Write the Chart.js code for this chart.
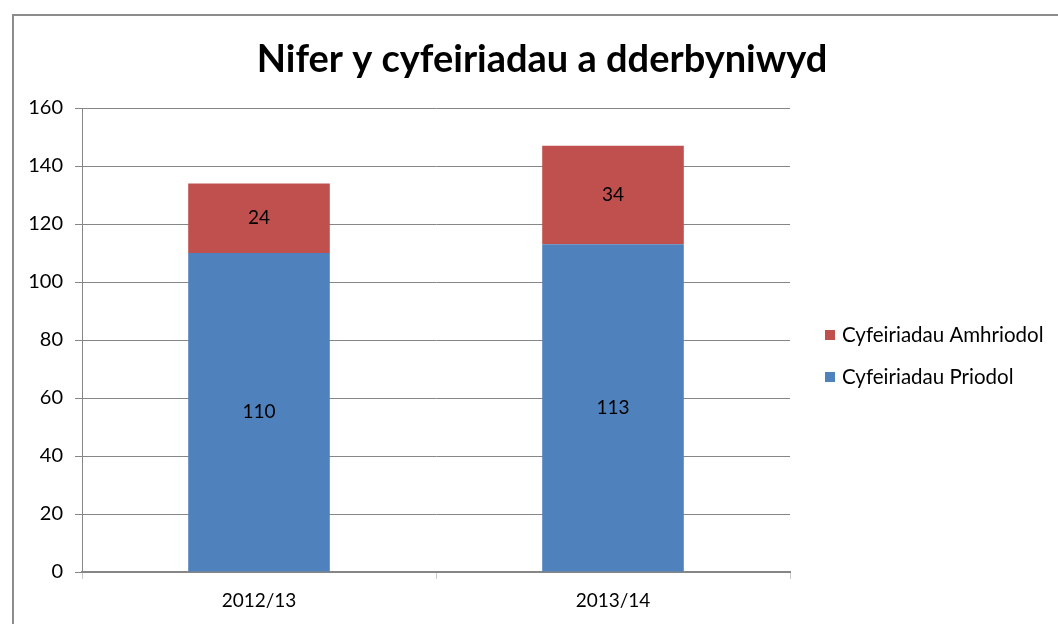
<!DOCTYPE html>
<html>
<head>
<meta charset="utf-8">
<script src="https://cdn.jsdelivr.net/npm/chart.js@4.4.0/dist/chart.umd.min.js"></script>
<style>
  html, body { margin: 0; padding: 0; background: #fff; overflow: hidden; }
  #frame { position: absolute; left: 12px; top: 14px; width: 1100px; height: 700px; border: 2px solid #8c8c8c; box-sizing: border-box; }
  #wrap { position: absolute; left: 0; top: 0; width: 1058px; height: 624px; }
</style>
</head>
<body>
<div id="frame"></div>
<div id="wrap"><canvas id="chart" width="1058" height="624"></canvas></div>
<script>
// data
var categories = ['2012/13', '2013/14'];
var priodol = [110, 113];
var amhriodol = [24, 34];
var yMax = 160;
var yStep = 20;
var chartTitle = 'Nifer y cyfeiriadau a dderbyniwyd';

var FONT = 'Lato';
var gridGrey = '#868686';

// title centred over the whole frame, not just the plot
var bigTitle = {
  id: 'bigTitle',
  afterDraw: function(chart) {
    var ctx = chart.ctx;
    ctx.save();
    ctx.font = 'bold 38px ' + FONT;
    ctx.fillStyle = '#000';
    ctx.textAlign = 'center';
    ctx.textBaseline = 'alphabetic';
    ctx.fillText(chartTitle, 542, 72);
    ctx.restore();
  }
};

// numbers written inside the bar segments
var barLabels = {
  id: 'barLabels',
  afterDatasetsDraw: function(chart) {
    var ctx = chart.ctx;
    ctx.save();
    ctx.font = '19px ' + FONT;
    ctx.fillStyle = '#000';
    ctx.textAlign = 'center';
    ctx.textBaseline = 'middle';
    chart.data.datasets.forEach(function(ds, i) {
      chart.getDatasetMeta(i).data.forEach(function(bar, j) {
        var mid = (bar.y + bar.base) / 2;
        ctx.fillText(ds.data[j], bar.x, mid);
      });
    });
    ctx.restore();
  }
};

// legend on the right, top item is the top segment
var sideLegend = {
  id: 'sideLegend',
  afterDraw: function(chart) {
    var ctx = chart.ctx;
    var items = chart.data.datasets.slice().reverse();
    ctx.save();
    ctx.font = '20.5px ' + FONT;
    ctx.textBaseline = 'middle';
    ctx.textAlign = 'left';
    items.forEach(function(ds, k) {
      var y = 335 + k * 42;
      ctx.fillStyle = ds.backgroundColor;
      ctx.fillRect(825, y - 5, 10, 10);
      ctx.fillStyle = '#000';
      ctx.fillText(ds.label, 842, y);
    });
    ctx.restore();
  }
};

var ctx = document.getElementById('chart').getContext('2d');
new Chart(ctx, {
  type: 'bar',
  data: {
    labels: categories,
    datasets: [
      { label: 'Cyfeiriadau Priodol', data: priodol, backgroundColor: '#4F81BD',
        barPercentage: 0.4, categoryPercentage: 1 },
      { label: 'Cyfeiriadau Amhriodol', data: amhriodol, backgroundColor: '#C0504D',
        barPercentage: 0.4, categoryPercentage: 1 }
    ]
  },
  options: {
    responsive: false,
    animation: false,
    layout: { padding: { left: 0, right: 268, top: 108, bottom: 0 } },
    plugins: {
      legend: { display: false },
      tooltip: { enabled: false },
      title: { display: false }
    },
    scales: {
      x: {
        stacked: true,
        offset: true,
        grid: { display: true, drawOnChartArea: false, drawTicks: true, tickLength: 7, offset: true, color: '#c8c8c8' },
        border: { display: true, color: gridGrey, width: 2 },
        ticks: { color: '#000', font: { family: FONT, size: 19 }, padding: 10 },
        afterFit: function(s) { s.height = 624 - 572; }
      },
      y: {
        stacked: true,
        min: 0,
        max: yMax,
        ticks: { stepSize: yStep, color: '#000', font: { family: FONT, size: 20 }, padding: 12 },
        grid: { color: gridGrey, lineWidth: 1, tickLength: 7, drawTicks: true },
        border: { display: true, color: gridGrey, width: 1 },
        afterFit: function(s) { s.width = 82; }
      }
    }
  },
  plugins: [bigTitle, barLabels, sideLegend]
});
</script>
</body>
</html>
